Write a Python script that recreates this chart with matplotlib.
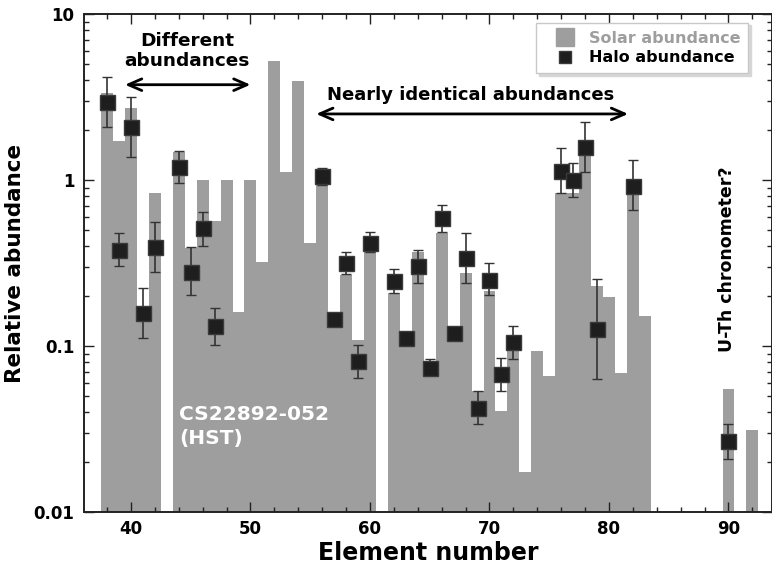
import matplotlib
matplotlib.use("Agg")
import matplotlib.pyplot as plt
from matplotlib.lines import Line2D
from matplotlib.ticker import FixedLocator, FuncFormatter, LogLocator, NullFormatter

plt.rcParams["font.family"] = ["DejaVu Sans"]
plt.rcParams["font.weight"] = "bold"
plt.rcParams["axes.labelweight"] = "bold"

# Solar-system r-process abundances (scaled), by element number
solar_z = [38, 39, 40, 41, 42, 44, 45, 46, 47, 48, 49, 50, 51, 52, 53, 54, 55, 56,
           57, 58, 59, 60, 62, 63, 64, 65, 66, 67, 68, 69, 70, 71, 72, 73, 74, 75,
           76, 77, 78, 79, 80, 81, 82, 83, 90, 92]
solar_val = [3.36, 1.72, 2.70, 0.155, 0.84, 1.47, 0.39, 1.0, 0.57, 1.0, 0.16, 1.0,
             0.32, 5.2, 1.11, 3.96, 0.415, 0.95,
             0.145, 0.268, 0.108, 0.38, 0.21, 0.112, 0.366, 0.073, 0.48, 0.12,
             0.277, 0.0535, 0.215, 0.0406, 0.1, 0.0175, 0.093, 0.066,
             0.84, 0.84, 1.6, 0.23, 0.196, 0.069, 0.84, 0.151, 0.0553, 0.0311]

# Halo star CS22892-052 abundances with lower / upper error limits
halo_z = [38, 39, 40, 41, 42, 44, 45, 46, 47, 56, 57, 58, 59, 60, 62, 63, 64, 65,
          66, 67, 68, 69, 70, 71, 72, 76, 77, 78, 79, 82, 90]
halo_val = [2.94, 0.379, 2.09, 0.159, 0.396, 1.2, 0.281, 0.512, 0.132, 1.05, 0.145,
            0.315, 0.081, 0.42, 0.245, 0.112, 0.304, 0.074, 0.588, 0.12, 0.337,
            0.0425, 0.25, 0.0674, 0.105, 1.14, 1.0, 1.59, 0.126, 0.92, 0.0267]
halo_lo = [2.1, 0.305, 1.38, 0.112, 0.28, 0.955, 0.202, 0.40, 0.102, 0.93, 0.132,
           0.27, 0.0645, 0.37, 0.21, 0.112, 0.24, 0.0666, 0.488, 0.12, 0.241,
           0.0337, 0.203, 0.0535, 0.083, 0.84, 0.79, 1.12, 0.063, 0.66, 0.021]
halo_hi = [4.19, 0.477, 3.17, 0.225, 0.56, 1.5, 0.396, 0.64, 0.17, 1.18, 0.159,
           0.37, 0.102, 0.485, 0.29, 0.112, 0.379, 0.083, 0.707, 0.12, 0.477,
           0.0535, 0.316, 0.085, 0.132, 1.55, 1.26, 2.23, 0.253, 1.32, 0.034]

x_ticks = [40, 50, 60, 70, 80, 90]
y_ticks = [0.01, 0.1, 1, 10]

GRAY = "#9e9e9e"

fig = plt.figure(figsize=(7.72, 5.78), dpi=100)
ax = fig.add_axes([84 / 772, 1 - 512 / 578, (772 - 84) / 772, (512 - 14) / 578])
ax.set_yscale("log")
ax.set_xlim(36.07, 93.64)
ax.set_ylim(0.01, 10)

ax.bar(solar_z, solar_val, width=1.0, color=GRAY, linewidth=0, zorder=1)

yerr = [[v - lo for v, lo in zip(halo_val, halo_lo)],
        [hi - v for v, hi in zip(halo_val, halo_hi)]]
ax.errorbar(halo_z, halo_val, yerr=yerr, fmt="s", color="#1e1e1e", ms=10.8,
            mec="#3a3a3a", mew=1.0, ecolor="#333333", elinewidth=1.2,
            capsize=3.4, capthick=1.2, zorder=3)

# Axes styling
for sp in ax.spines.values():
    sp.set_linewidth(1.4)
    sp.set_color("#222222")
ax.xaxis.set_major_locator(FixedLocator(x_ticks))
ax.xaxis.set_minor_locator(FixedLocator(range(36, 94, 2)))
ax.yaxis.set_major_locator(FixedLocator(y_ticks))
ax.yaxis.set_minor_locator(LogLocator(base=10, subs=range(2, 10)))
ax.yaxis.set_major_formatter(FuncFormatter(lambda v, p: "%g" % v))
ax.yaxis.set_minor_formatter(NullFormatter())
ax.tick_params(which="both", direction="in", top=True, right=True,
               labelsize=12, width=1.0, color="#222222")
ax.tick_params(which="major", length=7)
ax.tick_params(which="minor", length=3.5)
ax.tick_params(axis="x", which="major", pad=6)
ax.tick_params(axis="y", which="major", pad=7)
for lab in ax.get_xticklabels() + ax.get_yticklabels():
    lab.set_fontweight("bold")

ax.set_xlabel("Element number", fontsize=17, labelpad=2)
ax.set_ylabel("Relative abundance", fontsize=15.5, labelpad=6)

# Annotations
arrow_kw = dict(arrowstyle="<->,head_length=0.8,head_width=0.35", lw=2,
                color="black", shrinkA=0, shrinkB=0, mutation_scale=12)
ax.text(44.7, 6.0, "Different\nabundances", ha="center", va="center",
        fontsize=13.3, fontweight="bold", linespacing=1.15, zorder=4)
ax.annotate("", xy=(50.0, 3.75), xytext=(39.5, 3.75), arrowprops=arrow_kw, zorder=4)
ax.text(68.45, 3.25, "Nearly identical abundances", ha="center", va="center",
        fontsize=13, fontweight="bold", zorder=4)
ax.annotate("", xy=(81.6, 2.5), xytext=(55.5, 2.5), arrowprops=arrow_kw, zorder=4)
ax.text(44.0, 0.0327, "CS22892-052\n(HST)", ha="left", va="center", color="white",
        fontsize=14.5, fontweight="bold", linespacing=1.35, zorder=4)
ax.text(89.87, 0.331, "U-Th chronometer?", rotation=90, ha="center", va="center",
        fontsize=12.5, fontweight="bold", zorder=4)

handles = [
    Line2D([], [], marker="s", ls="none", ms=13, mfc=GRAY, mec=GRAY),
    Line2D([], [], marker="s", ls="none", ms=8, mfc="#1e1e1e", mec="#3a3a3a"),
]
leg = ax.legend(handles, ["Solar abundance", "Halo abundance"],
                loc="upper right", bbox_to_anchor=((748.3 - 84) / 688, (512 - 22.7) / 498),
                borderaxespad=0, fontsize=11.5, labelcolor=[GRAY, "black"],
                handlelength=2.6, handletextpad=0.2, borderpad=0.5,
                labelspacing=0.3, fancybox=False, framealpha=1,
                edgecolor="#c8c8c8", shadow={"color": "#d6d6d6", "alpha": 1})
for t in leg.get_texts():
    t.set_fontweight("bold")
leg.set_zorder(5)

fig.savefig("out.png", dpi=100)
